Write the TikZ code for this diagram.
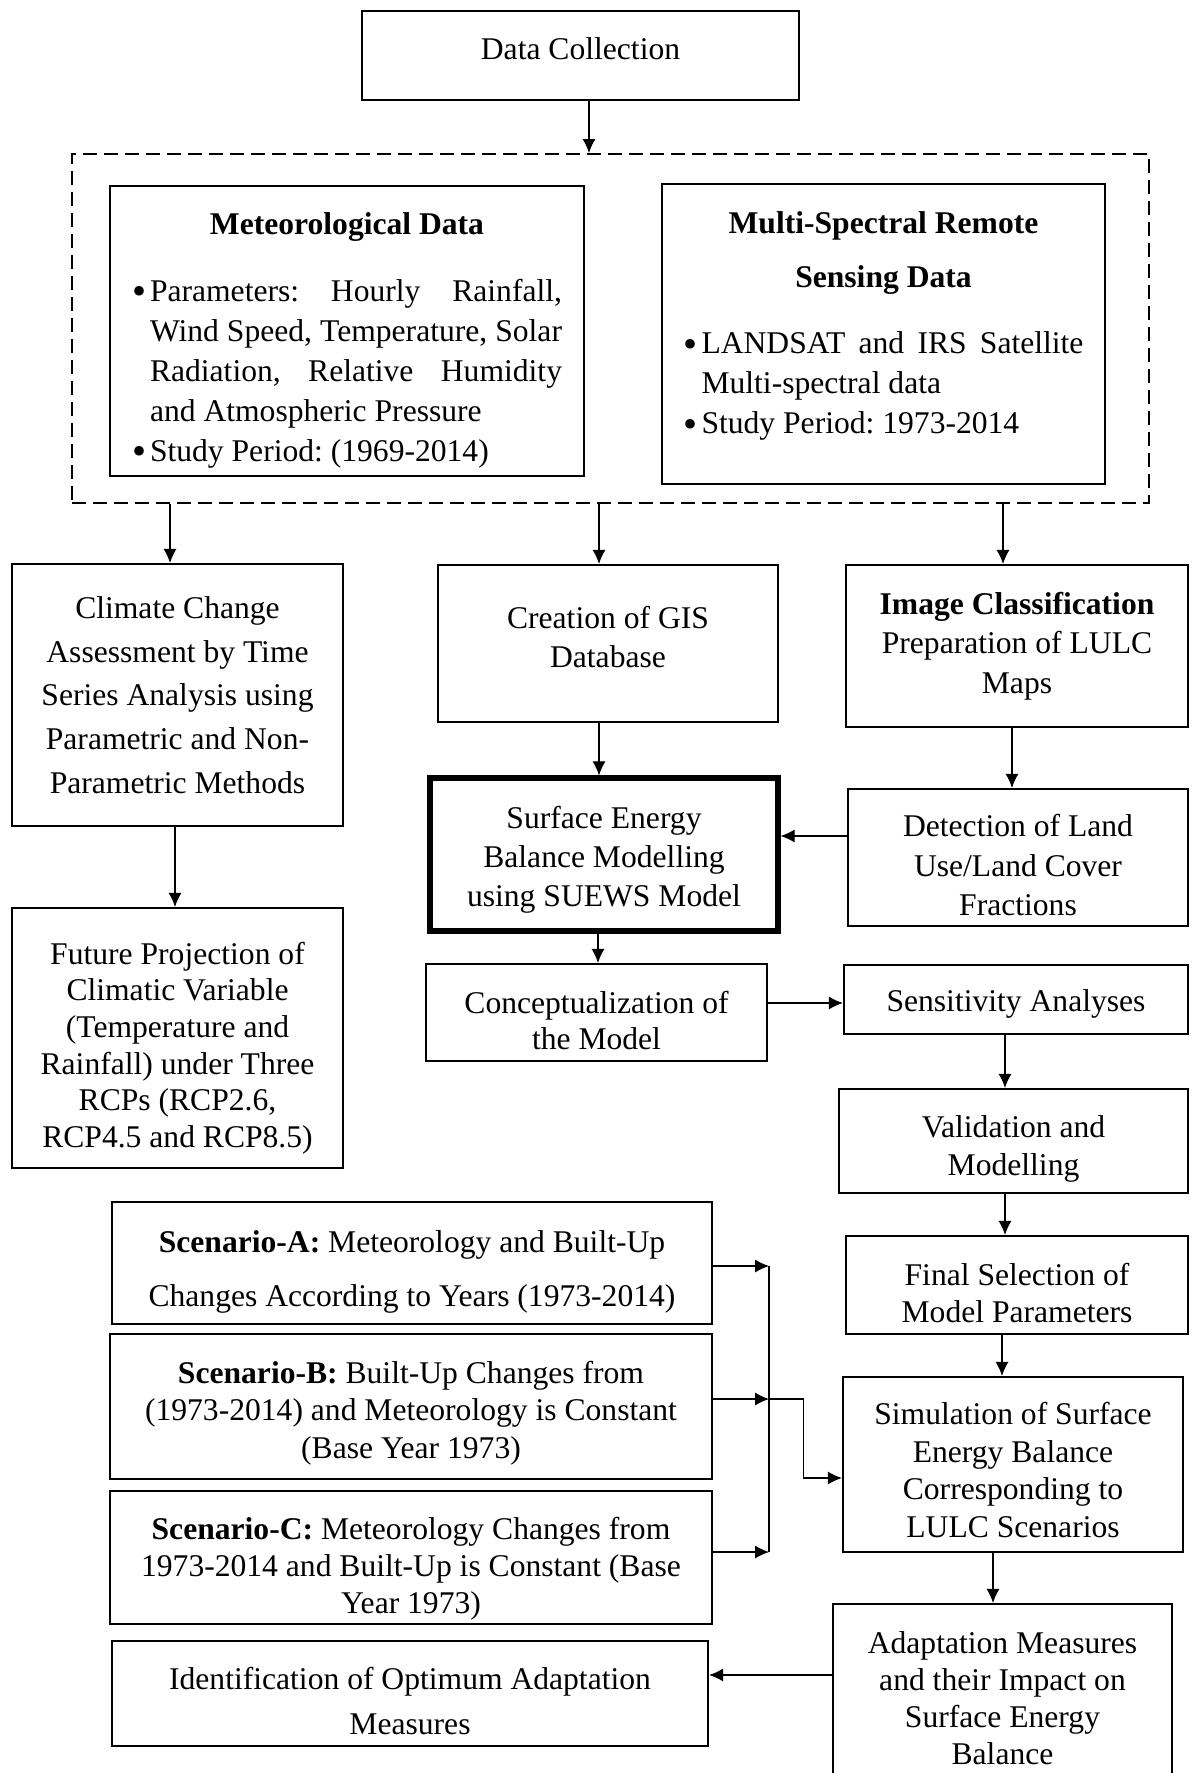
\documentclass[tikz,border=0pt]{standalone}
\usepackage{fontspec}
\setmainfont{Liberation Serif}
\usepackage{tikz}
\usetikzlibrary{arrows.meta,calc}

\frenchspacing
\newcommand{\bitem}{\par\noindent\hangindent=9pt\hangafter=1\makebox[9pt][l]{\raisebox{-1.8pt}{\fontsize{20}{20}\selectfont\textbullet}}}
\newcommand{\tp}[1]{\rule{0pt}{#1}}
\newcommand{\bt}[1]{\rule[-#1]{0pt}{0pt}}

\begin{document}
\begin{tikzpicture}[x=0.5pt,y=-0.5pt,
  box/.style={draw,line width=1.1pt,inner sep=0pt,align=center,font=\fontsize{15.8}{19.5}\selectfont},
  fs/.style={font=\fontsize{15.8}{#1}\selectfont},
  dashbox/.style={draw,line width=1pt,dash pattern=on 7pt off 3.5pt,inner sep=0pt},
  arr/.style={-{Latex[length=7pt,width=6.5pt]},line width=0.55pt}]
\useasboundingbox (0,0) rectangle (1191,1773);

\node[box,minimum width=218.5pt,minimum height=44.5pt] (dc) at (580.5,55.5) {Data Collection\bt{6.8pt}};
\node[dashbox,minimum width=538.5pt,minimum height=174.5pt] (dash) at (610.5,328.5) {};
\node[box,fs=20,align=justify,text width=215pt,minimum width=237pt,minimum height=145pt] (met) at (347,331)
  {{\centering\bfseries\tp{20pt}Meteorological Data\par}\vspace{13.5pt}
   \bitem Parameters: Hourly Rainfall,\linebreak Wind Speed, Temperature, Solar\linebreak Radiation, Relative Humidity\linebreak and Atmospheric Pressure
   \bitem Study Period: (1969-2014)};
\node[box,fs=20,align=justify,text width=200pt,minimum width=221.5pt,minimum height=150pt] (msr) at (883.5,334)
  {{\centering\bfseries\fontsize{15.8}{27}\selectfont Multi-Spectral Remote\\Sensing Data\par}\vspace{13pt}
   \bitem LANDSAT and IRS Satellite\linebreak Multi-spectral data
   \bitem Study Period: 1973-2014\bt{11.4pt}};

\node[box,fs=21.8,minimum width=165.5pt,minimum height=131pt] (clim) at (177.5,695)
  {Climate Change\\Assessment by Time\\Series Analysis using\\Parametric and Non-\\Parametric Methods};
\node[box,fs=19.2,minimum width=170pt,minimum height=78.5pt] (gis) at (608,643.5) {Creation of GIS\\Database\bt{6.8pt}};
\node[box,fs=19.8,minimum width=171pt,minimum height=81pt] (img) at (1017,646)
  {\textbf{Image Classification}\\Preparation of LULC\\Maps};
\node[box,fs=18.3,minimum width=165.5pt,minimum height=130pt] (fut) at (177.5,1038)
  {\tp{21.2pt}Future Projection of\\Climatic Variable\\(Temperature and\\Rainfall) under Three\\RCPs (RCP2.6,\\RCP4.5 and RCP8.5)};
\node[box,fs=19.5,line width=2.6pt,minimum width=174pt,minimum height=76.5pt] (seb) at (604,854.5)
  {\tp{16.6pt}Surface Energy\\Balance Modelling\\using SUEWS Model};
\node[box,fs=19.7,minimum width=170pt,minimum height=68.5pt] (det) at (1018,857.5)
  {\tp{19pt}Detection of Land\\Use/Land Cover\\Fractions};
\node[box,fs=18,minimum width=170.5pt,minimum height=48.5pt] (con) at (596.5,1012.5) {\tp{19pt}Conceptualization of\\the Model};
\node[box,minimum width=172pt,minimum height=34.5pt] (sens) at (1016,999.5) {\tp{15.6pt}Sensitivity Analyses};
\node[box,fs=19.3,minimum width=174.5pt,minimum height=52pt] (val) at (1013.5,1141) {\tp{19pt}Validation and\\Modelling};
\node[box,fs=18.5,minimum width=171pt,minimum height=49pt] (fin) at (1017,1285) {\tp{19pt}Final Selection of\\Model Parameters};
\node[box,fs=18.7,minimum width=170pt,minimum height=87.5pt] (sim) at (1013,1464.5)
  {\tp{16.6pt}Simulation of Surface\\Energy Balance\\Corresponding to\\LULC Scenarios};
\node[box,fs=18.5,minimum width=169.5pt,minimum height=94pt] (adp) at (1002.5,1698)
  {Adaptation Measures\\and their Impact on\\Surface Energy\\Balance};
\node[box,fs=22.6,minimum width=298pt,minimum height=52.5pt] (idf) at (410,1693.5)
  {\tp{19pt}Identification of Optimum Adaptation\\Measures};
\node[box,fs=27,minimum width=300pt,minimum height=61pt] (scA) at (412,1263)
  {\tp{20pt}\textbf{Scenario-A:} Meteorology and Built-Up\\Changes According to Years (1973-2014)};
\node[box,fs=18.7,minimum width=301pt,minimum height=72.5pt] (scB) at (411,1406.5)
  {\tp{17.8pt}\textbf{Scenario-B:} Built-Up Changes from\\(1973-2014) and Meteorology is Constant\\(Base Year 1973)};
\node[box,fs=18.5,minimum width=301pt,minimum height=66.5pt] (scC) at (411,1557.5)
  {\tp{22.4pt}\textbf{Scenario-C:} Meteorology Changes from\\1973-2014 and Built-Up is Constant (Base\\Year 1973)};

\coordinate (p1) at ($(dc.south)+(8.5,0)$);
\draw[arr] (p1) -- (p1 |- dash.north);
\coordinate (p2) at ($(clim.north)+(-7.5,0)$);
\draw[arr] (p2 |- dash.south) -- (p2);
\coordinate (p3) at ($(gis.north)+(-9,0)$);
\draw[arr] (p3 |- dash.south) -- (p3);
\coordinate (p4) at ($(img.north)+(-14,0)$);
\draw[arr] (p4 |- dash.south) -- (p4);
\coordinate (p5) at ($(fut.north)+(-2.5,0)$);
\draw[arr] (p5 |- clim.south) -- (p5);
\coordinate (p6) at ($(seb.north)+(-5,0)$);
\draw[arr] (p6 |- gis.south) -- (p6);
\coordinate (p7) at ($(det.north)+(-6,0)$);
\draw[arr] (p7 |- img.south) -- (p7);
\coordinate (p8) at ($(det.west)+(0,-21.5)$);
\draw[arr] (p8) -- (p8 -| seb.east);
\coordinate (p9) at ($(con.north)+(1.5,0)$);
\draw[arr] (p9 |- seb.south) -- (p9);
\coordinate (p10) at ($(con.east)+(0,-9.5)$);
\draw[arr] (p10) -- (p10 -| sens.west);
\coordinate (p11) at ($(val.north)+(-8.5,0)$);
\draw[arr] (p11 |- sens.south) -- (p11);
\coordinate (p12) at ($(fin.north)+(-12,0)$);
\draw[arr] (p12 |- val.south) -- (p12);
\coordinate (p13) at ($(sim.north)+(-11,0)$);
\draw[arr] (p13 |- fin.south) -- (p13);
\coordinate (p14) at ($(adp.north)+(-9.5,0)$);
\draw[arr] (p14 |- sim.south) -- (p14);
\coordinate (p15) at ($(adp.west)+(0,-23)$);
\draw[arr] (p15) -- (p15 -| idf.east);

\coordinate (ya) at ($(scA.east)+(0,3)$);
\coordinate (yb) at ($(scB.east)+(0,-7.5)$);
\coordinate (yc) at ($(scC.east)+(0,-5.5)$);
\coordinate (bus) at ($(ya)+(56,0)$);
\draw[arr] (ya) -- (bus);
\draw[arr] (yb) -- (bus |- yb);
\draw[arr] (yc) -- (bus |- yc);
\draw[line width=1pt] (bus) -- (bus |- yc);
\draw[arr] (bus |- yb) -- ++(34,0) |- ($(sim.west)+(0,13.5)$);
\end{tikzpicture}
\end{document}
